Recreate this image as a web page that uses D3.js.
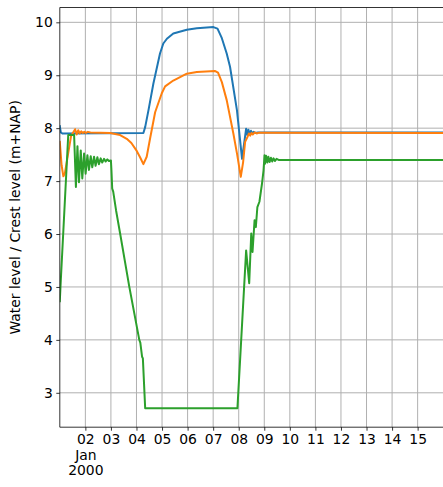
<!DOCTYPE html>
<html>
<head>
<meta charset="utf-8">
<script src="https://cdn.jsdelivr.net/npm/d3@7"></script>
<style>
  html, body { margin: 0; padding: 0; background: #fff; }
  svg { display: block; font-family: "DejaVu Sans", sans-serif; }
</style>
</head>
<body>
<svg id="chart" width="443" height="487"></svg>
<script>
// ---- data: [days since 2000-01-01 00:00, level (m+NAP)] ----
const seriesBlue = [
  [0.00, 8.04], [0.04, 7.92], [0.10, 7.90], [3.27, 7.91], [3.34, 8.02], [3.47, 8.34],
  [3.66, 8.84], [3.92, 9.41], [4.05, 9.60], [4.19, 9.69], [4.44, 9.79], [4.97, 9.86],
  [5.36, 9.89], [6.01, 9.91], [6.17, 9.88], [6.34, 9.70], [6.53, 9.41], [6.66, 9.16],
  [6.93, 8.34], [7.13, 7.42], [7.29, 7.99], [7.34, 7.87], [7.38, 7.97], [7.43, 7.88],
  [7.48, 7.95], [7.53, 7.90], [7.58, 7.93], [7.65, 7.91], [7.75, 7.92], [16.0, 7.92]
];
const seriesOrange = [
  [0.00, 7.74], [0.07, 7.30], [0.14, 7.09], [0.20, 7.15], [0.32, 7.50], [0.44, 7.85],
  [0.60, 7.98], [0.66, 7.88], [0.72, 7.96], [0.78, 7.90], [0.84, 7.94], [0.90, 7.91],
  [0.96, 7.93], [1.02, 7.91], [1.10, 7.93], [1.20, 7.92], [1.97, 7.91], [2.36, 7.87],
  [2.62, 7.80], [2.80, 7.72], [3.01, 7.57], [3.14, 7.45], [3.27, 7.32], [3.40, 7.46],
  [3.53, 7.80], [3.73, 8.30], [3.99, 8.66], [4.12, 8.79], [4.44, 8.90], [4.97, 9.03],
  [5.36, 9.06], [6.08, 9.08], [6.19, 9.05], [6.34, 8.87], [6.53, 8.53], [6.79, 7.90],
  [6.94, 7.50], [7.08, 7.08], [7.17, 7.35], [7.25, 7.74], [7.34, 7.83], [7.40, 7.90],
  [7.45, 7.86], [7.50, 7.91], [7.55, 7.88], [7.62, 7.92], [7.70, 7.90], [7.80, 7.915],
  [16.0, 7.91]
];
const seriesGreen = [
  [0.00, 4.73], [0.04, 5.13], [0.14, 6.07], [0.33, 7.87], [0.56, 7.87], [0.63, 6.89],
  [0.69, 7.66], [0.75, 6.98], [0.82, 7.58], [0.88, 7.05], [0.95, 7.52], [1.01, 7.14],
  [1.08, 7.49], [1.14, 7.21], [1.21, 7.47], [1.27, 7.26], [1.34, 7.46], [1.40, 7.29],
  [1.47, 7.45], [1.53, 7.32], [1.60, 7.43], [1.66, 7.35], [1.73, 7.42], [1.79, 7.37],
  [1.86, 7.41], [1.92, 7.38], [2.00, 7.39], [2.02, 7.21], [2.05, 6.86], [2.09, 6.80],
  [2.20, 6.45], [2.36, 6.01], [2.72, 5.00], [3.11, 4.00], [3.15, 3.95], [3.22, 3.68],
  [3.25, 3.65], [3.34, 2.71], [6.95, 2.71], [7.29, 5.69], [7.41, 5.07], [7.49, 6.01],
  [7.54, 5.66], [7.62, 6.26], [7.67, 6.13], [7.73, 6.51], [7.81, 6.61], [7.91, 6.95],
  [7.97, 7.20], [8.01, 7.49], [8.03, 7.33], [8.07, 7.48], [8.12, 7.35], [8.16, 7.46],
  [8.21, 7.36], [8.26, 7.44], [8.31, 7.37], [8.36, 7.43], [8.42, 7.38], [8.48, 7.42],
  [8.56, 7.40], [16.0, 7.40]
];
const xTickDays = [2, 3, 4, 5, 6, 7, 8, 9, 10, 11, 12, 13, 14, 15];
const yTicks = [3, 4, 5, 6, 7, 8, 9, 10];
const yLabel = "Water level / Crest level (m+NAP)";
const colors = ["#1f77b4", "#ff7f0e", "#2ca02c"];

// ---- layout ----
const mLeft = 59.8, mTop = 7.5, mBottom = 427.2, mRight = 443.2;
const t0 = Date.UTC(2000, 0, 1);
const dayMs = 86400000;
const toDate = d => new Date(t0 + d * dayMs);

const x = d3.scaleUtc().domain([toDate(0), toDate(15)]).range([mLeft, mRight]);
const y = d3.scaleLinear().domain([2.35, 10.28]).range([mBottom, mTop]);

const svg = d3.select("#chart");

svg.append("defs").append("clipPath").attr("id", "clip")
  .append("rect").attr("x", mLeft).attr("y", mTop)
  .attr("width", mRight - mLeft).attr("height", mBottom - mTop);

// grid
const grid = svg.append("g");
grid.selectAll(".gx").data(xTickDays).enter().append("line")
  .attr("x1", d => x(toDate(d - 1))).attr("x2", d => x(toDate(d - 1)))
  .attr("y1", mTop).attr("y2", mBottom)
  .attr("stroke", "#b0b0b0").attr("stroke-width", 1);
grid.selectAll(".gy").data(yTicks).enter().append("line")
  .attr("x1", mLeft).attr("x2", mRight)
  .attr("y1", d => y(d)).attr("y2", d => y(d))
  .attr("stroke", "#b0b0b0").attr("stroke-width", 1);

// lines
const line = d3.line().x(d => x(toDate(d[0]))).y(d => y(d[1]));
const lines = svg.append("g").attr("clip-path", "url(#clip)");
[seriesBlue, seriesOrange, seriesGreen].forEach((s, i) => {
  lines.append("path").datum(s).attr("d", line)
    .attr("fill", "none").attr("stroke", colors[i])
    .attr("stroke-width", 2).attr("stroke-linejoin", "round").attr("stroke-linecap", "square");
});

// axes
const xAxis = d3.axisBottom(x)
  .tickValues(xTickDays.map(d => toDate(d - 1)))
  .tickSize(3.5).tickPadding(3.5)
  .tickFormat(d3.utcFormat("%d"));
const gx = svg.append("g").attr("transform", `translate(0,${mBottom})`).call(xAxis);
gx.select(".domain").remove();
gx.selectAll(".tick line").attr("stroke", "#000").attr("stroke-width", 0.8);
gx.selectAll(".tick text").attr("font-size", "13.9px").attr("fill", "#000")
  .attr("font-family", "DejaVu Sans");
gx.selectAll(".tick").filter((d, i) => i === 0).select("text")
  .each(function () {
    const t = d3.select(this);
    t.append("tspan").attr("x", 0).attr("dy", "1.12em").text("Jan");
    t.append("tspan").attr("x", 0).attr("dy", "1.12em").text("2000");
  });

const yAxis = d3.axisLeft(y).tickValues(yTicks).tickSize(3.5).tickPadding(3.5)
  .tickFormat(d3.format("d"));
const gy = svg.append("g").attr("transform", `translate(${mLeft},0)`).call(yAxis);
gy.select(".domain").remove();
gy.selectAll(".tick line").attr("stroke", "#000").attr("stroke-width", 0.8);
gy.selectAll(".tick text").attr("font-size", "13.9px").attr("fill", "#000")
  .attr("font-family", "DejaVu Sans");

// spines
const sp = svg.append("g").attr("stroke", "#000").attr("stroke-width", 0.8);
sp.append("line").attr("x1", mLeft).attr("x2", mLeft).attr("y1", mTop).attr("y2", mBottom);
sp.append("line").attr("x1", mLeft).attr("x2", mRight).attr("y1", mBottom).attr("y2", mBottom);
sp.append("line").attr("x1", mLeft).attr("x2", mRight).attr("y1", mTop).attr("y2", mTop);

// y label
svg.append("text")
  .attr("transform", `translate(20,${(mTop + mBottom) / 2}) rotate(-90)`)
  .attr("text-anchor", "middle")
  .attr("font-size", "13.9px").attr("fill", "#000")
  .attr("font-family", "DejaVu Sans")
  .text(yLabel);
</script>
</body>
</html>
